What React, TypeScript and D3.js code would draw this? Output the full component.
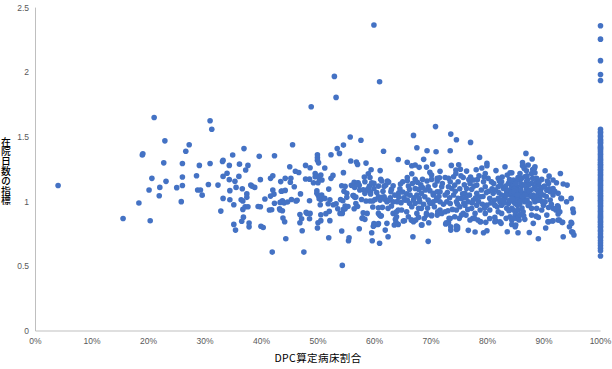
import React from "react";
import * as d3 from "d3";

const xTickValues = [0, 10, 20, 30, 40, 50, 60, 70, 80, 90, 100];
const yTickValues = [0, 0.5, 1, 1.5, 2, 2.5];
const yTickLabels = ["0", "0.5", "1", "1.5", "2", "2.5"];
const xAxisTitle = "DPC算定病床割合";
const yAxisTitle = "在院日数の指標";

// [DPC bed share %, length-of-stay index]
const band0to30: number[][] = [
  [4,1.125],[15.5,.87],[18.3,.99],[18.9,1.36],[19,1.37],[20.1,1.09],[20.3,.852],[20.6,1.18],[21,1.65],[21.9,1.045],[22,1.11],[22.7,1.3],[22.9,1.47],[23.1,1.157],[25,1.108],[25.8,1],[26,1.295],[26,1.19],[26,1.125],[26.6,1.39],[27.2,1.44],[28.5,1.2],[28.7,1.09],[29,1.28],[29.2,1.09],[29.5,1.05],
];
const band30to40: number[][] = [
  [30.6,1.133],[30.9,1.625],[30.9,1.295],[31.2,1.56],[32.3,1.128],[32.8,.927],[33.1,1.31],[33.2,1.32],[33.2,1.195],[33.2,1.025],[33.9,1.22],[34.3,1.28],[34.3,1.17],[34.4,1.015],[34.4,1.085],[34.9,1.36],[35.1,.976],[35.1,.824],[35.3,1.157],[35.4,.78],[35.5,1.11],[36,1.195],[36.1,1.29],[36.4,1.015],[36.5,.848],[36.6,1.1],[36.7,1.005],[36.7,.94],[36.8,.88],[36.9,1.41],[37.1,.96],[37.2,1.245],[37.4,1.06],[37.4,1.033],[37.6,1.28],[37.6,.96],[37.8,.835],[37.8,.805],[38.1,1.128],[38.3,1.12],[38.8,1.11],[39.4,.963],[39.6,1.35],[39.8,1.17],[39.8,.96],[39.9,.81],
];
const band40to50: number[][] = [
  [40.3,.8],[40.6,1.02],[41.4,.935],[41.6,1.18],[41.6,1.043],[41.8,.937],[41.9,.61],[42,1.2],[42,1.09],[42.2,1.058],[42.3,1.355],[42.3,.987],[43.2,.945],[43.3,.994],[43.3,.935],[43.4,1.155],[43.5,1.08],[43.6,1.082],[43.7,1.007],[43.7,.93],[43.8,.873],[44,.99],[44.1,.845],[44.2,1.18],[44.2,1.087],[44.3,.713],[44.6,.997],[45,1.27],[45.1,1.15],[45.2,1.18],[45.3,1.017],[45.5,1.44],[45.8,1.115],[46,1.235],[46.1,1.005],[46.3,1.01],[46.6,1.225],[46.8,.9],[46.8,.837],[46.9,1.06],[47.1,.868],[47.2,.775],[47.5,.61],[47.8,1.28],[47.8,1.175],[47.9,.917],[48.1,.909],[48.5,1.174],[48.5,1.007],[48.5,.868],[48.6,1.262],[48.6,.909],[48.8,1.733],[49.2,1.146],[49.5,1.218],[49.5,1.192],[49.8,1.198],[49.8,1.084],[49.8,1.064],[49.9,1.363],[49.9,1.34],[49.9,1.32],[49.9,.796],
];
const band50to60: number[][] = [
  [50,1.146],[50,.837],[50.05,1.048],[50.1,1.3],[50.2,1.023],[50.3,1.172],[50.35,1.033],[50.4,.976],[50.5,1.206],[50.5,1.017],[50.5,.899],[50.5,.853],[50.65,1.05],[50.7,1.167],[51.2,1.26],[51.2,1.025],[51.4,.907],[51.8,.984],[51.9,1.097],[51.9,.721],[52,.925],[52.1,1.015],[52.1,.853],[52.3,1.363],[52.3,1.18],[52.65,1.203],[52.7,.976],[52.9,1.968],[53.2,1.806],[53.2,.984],[53.4,1.41],[53.5,.945],[53.8,1.373],[53.9,.909],[54,1.017],[54.2,1.123],[54.2,.773],[54.3,.909],[54.3,.507],[54.4,1.007],[54.5,1.437],[54.5,1.224],[54.5,.94],[54.6,1.08],[54.8,1.118],[54.8,.966],[54.8,.945],[55.1,1.064],[55.1,1.033],[55.3,.963],[55.4,.698],[55.5,.721],[55.7,1.5],[55.8,1.314],[55.9,1.126],[56.2,1.048],[56.3,1.048],[56.4,1.149],[56.4,.945],[56.5,1.11],[56.5,1.033],[56.7,.986],[56.7,1.035],[56.8,1.306],[57,1.288],[57,.963],[57,1.144],[57.1,1.146],[57.3,1.126],[57.3,.79],[57.4,1.09],[57.6,1.474],[57.7,1.017],[57.8,.871],[57.9,.875],[58,1.092],[58,.914],[58.2,1.19],[58.3,1.154],[58.3,1.064],[58.3,.863],[58.5,1.298],[58.5,1.087],[58.5,1.005],[58.7,.909],[58.9,1.216],[58.9,1.102],[59.1,1.12],[59.2,1.187],[59.2,1.005],[59.3,1.077],[59.3,1.06],[59.4,1.247],[59.5,1.146],[59.5,.76],[59.6,.698],[59.7,1.005],[59.7,.958],[59.8,.81],[59.9,2.365],[59.9,1.141],[59.9,1.102],[59.9,.83],
];
const band60to70: number[][] = [
  [60,.82],[60.1,1.017],[60.6,.824],[60.7,1.12],[60.7,1.038],[60.7,.953],[60.7,.909],[60.7,.83],[60.9,1.927],[60.9,.896],[60.9,.678],[61,1.24],[61,1.012],[61.1,1.172],[61.1,.889],[61.2,.891],[61.3,1.159],[61.3,1.033],[61.4,.956],[61.6,1.39],[61.7,1.118],[61.7,1.038],[61.9,1.017],[61.9,.78],[62,1.128],[62.2,.999],[62.2,.832],[62.3,1.159],[62.4,.948],[62.4,.729],[62.5,1.151],[62.6,1.012],[62.9,1.077],[63,1.095],[63,.966],[63.3,1.123],[63.3,.999],[63.3,.909],[63.5,.819],[63.7,.863],[63.8,.84],[63.9,.922],[63.9,.883],[64.2,1.326],[64.2,.935],[64.2,.824],[64.3,1.069],[64.3,1.033],[64.6,1.136],[64.7,.992],[64.8,.935],[65,1.154],[65,1.074],[65.1,.85],[65.3,.852],[65.4,1.012],[65.7,1.06],[65.7,.922],[65.8,1.304],[65.8,1.187],[65.8,1.162],[65.8,1.012],[66,1.12],[66,.883],[66.2,1.095],[66.2,.987],[66.5,.858],[66.6,1.277],[66.6,1.216],[66.6,.961],[66.6,.858],[66.8,.729],[66.9,1.512],[66.9,1.012],[66.9,.845],[67.2,1.283],[67.2,1.172],[67.2,1.102],[67.2,.987],[67.3,.858],[67.5,1.417],[67.5,1.05],[67.5,.909],[67.8,1.095],[67.8,.948],[67.8,.878],[67.9,1.265],[67.9,1.025],[68.3,1.064],[68.3,.948],[68.3,.819],[68.4,.82],[68.5,1.172],[68.5,1.108],[68.7,1.327],[68.8,.87],[68.9,1.038],[69.2,1.267],[69.2,.909],[69.2,.896],[69.3,1.393],[69.3,1.159],[69.5,1.115],[69.5,1.012],[69.5,.693],[69.6,.837],[69.8,1.226],[69.8,1.085],[69.8,.987],
  [66.3,1.05],[66.7,1.14],[67,1.03],[67.6,1.15],[68,1],[68.2,1.13],[68.7,.98],[69,1.09],[69.4,.95],[64,1.0],[64.5,1.1],[65.2,1.03],[63.6,1.05],[62.8,1.03],[61.5,1.08],[60.4,1.07],
];
const band70to80: number[][] = [
  [70.1,1.206],[70.1,1.172],[70.1,.987],[70.1,.891],[70.1,.896],[70.3,1.29],[70.4,1.064],[70.4,1.051],[70.4,.999],[70.7,1.128],[70.8,1.58],[70.9,1.386],[71,1.025],[71,1.012],[71.1,1.18],[71.1,1.159],[71.1,1.077],[71.1,.896],[71.2,.922],[71.5,1.185],[71.6,1.234],[71.6,1.077],[71.6,.999],[71.6,.935],[71.8,.91],[71.9,1.115],[71.9,.909],[72.5,1.187],[72.5,1.051],[72.5,.922],[72.6,.827],[72.7,.836],[72.8,.999],[73.1,1.18],[73.1,1.115],[73.1,.837],[73.2,.871],[73.4,1.393],[73.4,1.154],[73.4,.986],[73.4,.87],[73.5,1.522],[73.5,.806],[73.5,.78],[73.6,1.28],[73.7,1.102],[74,1.192],[74,1.051],[74.2,1.128],[74.2,.883],[74.4,1.244],[74.4,1.218],[74.5,1.478],[74.5,.999],[74.5,.935],[74.5,.811],[74.5,.785],[74.7,.806],[74.7,.79],[74.8,1.154],[74.8,1.025],[74.9,1.285],[75,.871],[75.1,.961],[75.2,1.25],[75.4,1.025],[75.4,.896],[75.7,1.187],[75.7,.909],[76,1.064],[76,.973],[76.2,.896],[76.3,1.236],[76.3,1.102],[76.6,.999],[76.6,.778],[76.9,1.141],[76.9,.858],[77,1.458],[77.2,1.095],[77.2,.948],[77.4,.871],[77.5,1.167],[77.5,1.012],[77.7,.871],[77.8,.909],[77.8,.765],[78,1.247],[78.1,1.128],[78.1,1.064],[78.1,.973],[78.3,.858],[78.6,1.342],[78.7,1.038],[78.7,.935],[78.7,.845],[78.8,.845],[79,1.26],[79.3,1.154],[79.3,.76],[79.6,1.218],[79.6,1.115],[79.6,.909],[79.7,.84],[79.9,1.296],[79.9,1.278],[79.9,.973],[79.9,.775],
  [70.6,.96],[71.4,1.04],[72,1.14],[72.2,.98],[72.9,1.07],[73.3,1.03],[73.8,.94],[74.3,1.08],[74.7,.98],[75.1,1.1],[75.3,1.2],[75.6,1.06],[75.9,1.13],[76.2,1.03],[76.5,.94],[76.8,1.05],[77,1.19],[77.3,.99],[77.6,1.12],[77.9,1.03],[78.2,1.17],[78.4,1],[78.9,1.09],[79.1,.98],[79.2,1.04],[79.4,1.19],[79.5,.95],[79.8,1.07],[73,.93],[75.8,.99],[78.5,1.2],[76.7,1.17],
];
const band80to90: number[][] = [
  [80.1,1.18],[80.4,1.025],[80.4,.935],[80.4,.87],[80.7,1.154],[81,1.064],[81.3,.973],[81.3,.878],[81.3,.845],[81.5,1.24],[81.5,.85],[81.9,1.18],[81.9,1.115],[81.9,1.025],[81.9,.922],[82.2,.845],[82.4,.832],[82.5,1.154],[82.5,1.051],[82.5,.973],[82.5,.909],[82.8,1.102],[83.1,1.27],[83.1,1.025],[83.3,.871],[83.4,1.077],[83.4,.948],[83.5,1.205],[83.5,.767],[83.7,1.141],[83.7,.986],[84,1.223],[84,1.051],[84,.883],[84.3,1.223],[84.3,1.115],[84.3,1.102],[84.3,.948],[84.3,.858],[84.3,.824],[84.6,1.167],[84.6,1.038],[84.6,.999],[84.6,.935],[84.9,1.064],[84.9,.986],[84.9,.896],[84.9,.806],[85,.922],[85,.819],[85.2,1.115],[85.2,1.089],[85.2,.87],[85.3,.973],[85.4,1.187],[85.4,.76],[85.45,1.167],[85.45,.935],[85.5,1.025],[85.5,.883],[85.6,.858],[85.75,1.218],[85.75,1.038],[85.75,.986],[86.05,1.18],[86.2,1.303],[86.2,1.277],[86.3,1.282],[86.3,1.064],[86.3,.922],[86.5,1.257],[86.6,1.192],[86.6,.999],[86.6,.863],[86.8,1.373],[86.9,1.239],[86.9,1.154],[86.9,1.102],[87.2,1.283],[87.2,1.051],[87.4,.762],[87.5,.986],[87.8,1.218],[87.8,1.141],[87.8,.948],[87.8,.896],[87.9,1.33],[88,1.249],[88.1,1.051],[88.1,.832],[88.3,1.257],[88.4,1.27],[88.4,1.223],[88.4,1.115],[88.4,.999],[88.6,.888],[88.7,1.18],[88.7,.948],[89,1.128],[89,1.064],[89,.878],[89,.713],[89.3,1.012],[89.6,1.172],[89.6,.935],[89.9,1.115],[89.9,1.051],[89.9,.973],
  [80.8,1.1],[81.4,1.09],[82,1.07],[82.3,1.13],[82.9,1.04],[83.2,1.12],[83.6,1.09],[83.9,1.01],[84.2,1.07],[84.5,1.13],[84.8,1.1],[85.1,1.02],[85.6,1.06],[86,1.12],[86.4,1.02],[86.8,1.07],[87,1.01],[87.3,1.13],[87.6,1.09],[88.2,1.02],[88.8,1.09],[89.2,1.04],[89.5,1.1],[81.2,1.01],[82.2,1],[83,.99],[85.9,1.14],[87.1,1.17],
  [80.2,1.08],[80.6,.99],[81.1,1.14],[81.7,.96],[82.1,1.16],[82.7,1.01],[83.3,1.05],[83.8,.93],[84.1,1.16],[84.4,1.02],[84.7,1.08],[85,1.14],[85.3,1.05],[85.7,1],[85.9,1.09],[86.1,.95],[86.2,1.04],[86.5,1.13],[86.7,1.05],[87,1.2],[87.2,.97],[87.4,1.08],[87.7,1.04],[88,1.18],[88.2,1.1],[88.5,1.04],[88.6,1.15],[88.9,1.01],[89.1,1.15],[89.4,1.07],[89.7,1],[86.4,.89],[83.9,1.17],[82.6,1.19],[85.8,.9],[84.5,.87],
];
const band90to95: number[][] = [
  [90.2,1.239],[90.2,.999],[90.3,.796],[90.5,1.089],[90.5,.896],[90.7,.845],[90.8,1.141],[90.8,.955],[90.8,.845],[90.9,1.197],[91.1,1.077],[91.1,1.012],[91.5,.85],[91.6,1.167],[91.6,1.102],[91.6,1.051],[91.6,.948],[91.6,.852],[92.1,.935],[92.2,1.146],[92.4,.968],[92.5,1.064],[92.5,.961],[92.5,.948],[92.5,.904],[92.5,.858],[92.7,.858],[92.8,.922],[92.9,1.218],[93,1.025],[93.1,1.025],[93.2,.84],[93.3,.84],[93.4,1.136],[93.4,.729],[94,.999],[94.1,1.128],[94.5,.806],[94.8,1.025],[94.8,.84],[94.9,.832],[94.9,.767],[95.1,.943],[95.1,.763],[95.2,.917],[95.3,.742],
  [90.1,1.12],[90.4,1.04],[90.9,1.1],[91.3,.98],[91.9,1.08],[90.6,1.16],
];
const fullShareIndex: number[] = [
  2.36,2.256,2.09,1.983,1.937,1.56,1.54,1.53,1.51,1.5,1.48,1.47,1.46,1.45,1.43,1.42,1.41,1.4,1.385,1.37,1.36,1.345,1.33,1.32,1.305,1.29,1.28,1.265,1.25,1.24,1.225,1.21,1.2,1.185,1.17,1.16,1.145,1.13,1.12,1.105,1.09,1.08,1.065,1.05,1.04,1.025,1.01,1,.985,.97,.96,.945,.93,.92,.905,.89,.88,.865,.85,.84,.825,.81,.8,.78,.77,.75,.73,.72,.7,.68,.66,.64,.62,.58,
];

const points: number[][] = [
  ...band0to30, ...band30to40, ...band40to50, ...band50to60, ...band60to70, ...band70to80, ...band80to90, ...band90to95,
  ...fullShareIndex.map((v) => [100, v]),
];

const W = 612, H = 369;
const x = d3.scaleLinear().domain([0, 100]).range([35.5, 600.5]);
const y = d3.scaleLinear().domain([0, 2.5]).range([331, 7.6]);
const axisColor = "#BFBFBF";
const labelColor = "#595959";
const tickFont = "'Liberation Sans', Arial, sans-serif";
const cjkFont = "'Noto Sans CJK JP', sans-serif";

export default function App() {
  return (
    <svg width={W} height={H} viewBox={`0 0 ${W} ${H}`} style={{ position: "fixed", left: 0, top: 0, background: "#fff", display: "block" }}>
      <line x1={x(0)} x2={x(100)} y1={y(0)} y2={y(0)} stroke={axisColor} strokeWidth={1} />
      <line x1={x(0)} x2={x(0)} y1={y(0)} y2={y(2.5)} stroke={axisColor} strokeWidth={1} />
      {points.map((p, i) => (
        <circle key={i} cx={x(p[0])} cy={y(p[1])} r={2.8} fill="#4472C4" />
      ))}
      {yTickValues.map((v, i) => (
        <text key={v} x={29} y={y(v) + 3} textAnchor="end" fontFamily={tickFont} fontSize={8.5} fill={labelColor}>{yTickLabels[i]}</text>
      ))}
      {xTickValues.map((v) => (
        <text key={v} x={x(v)} y={344} textAnchor="middle" fontFamily={tickFont} fontSize={8.5} fill={labelColor}>{v}%</text>
      ))}
      <text x={318} y={362} textAnchor="middle" fontFamily={cjkFont} fontSize={10.5} letterSpacing={0.4} fill="#000">{xAxisTitle}</text>
      <text x={6} y={137} fontFamily={cjkFont} fontSize={9.8} fontWeight={500} fill="#000" style={{ writingMode: "vertical-rl", textOrientation: "upright" }}>{yAxisTitle}</text>
    </svg>
  );
}
